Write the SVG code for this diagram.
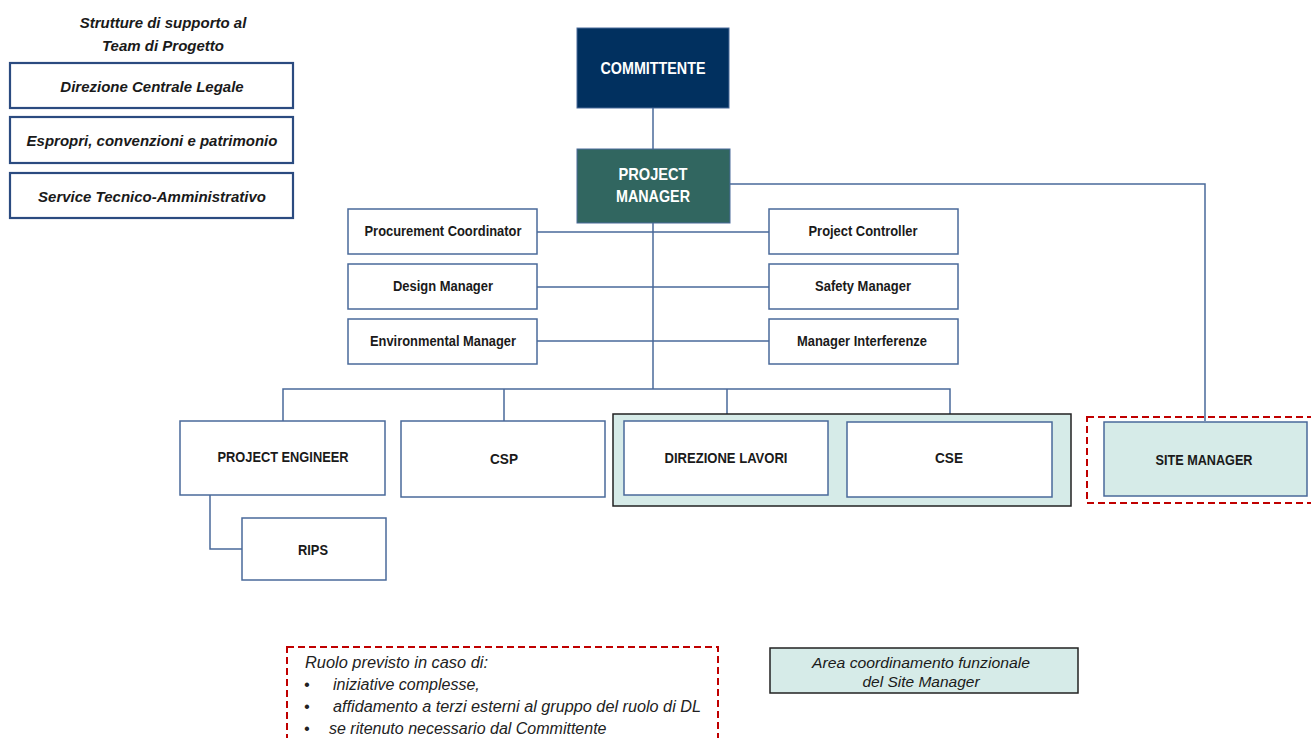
<svg xmlns="http://www.w3.org/2000/svg" width="1311" height="738" viewBox="0 0 1311 738">
<style>
text{font-family:"Liberation Sans",Arial,sans-serif;fill:#1a1a1a}
.b{font-weight:bold;text-anchor:middle}
.bi{font-weight:bold;font-style:italic;text-anchor:middle;font-size:15px}
.w{fill:#fff;font-size:16.5px}
.box{fill:#fff;stroke:#4a6a9a;stroke-width:1.5}
.sup{fill:#fff;stroke:#2b4b80;stroke-width:2.2}
.n{font-size:15px}
.s{font-size:14px}
.con{fill:none;stroke:#4a6a9a;stroke-width:1.5}
.it{font-style:italic;font-size:16px;fill:#222}
.red{fill:none;stroke:#c00000;stroke-width:2;stroke-dasharray:7,4}
</style>
<rect width="1311" height="738" fill="#fff"/>
<g id="connectors">
<path class="con" d="M653 108V149"/>
<path class="con" d="M653 223V389"/>
<path class="con" d="M730 184H1205V421"/>
<path class="con" d="M537 232H769M537 287H769M537 341H769" stroke-width="2" stroke="#7d95b8"/>
<path class="con" d="M283 421V389H950V421M504 389V421M727 389V421"/>
<path class="con" d="M210 495V549H242"/>
</g>
<g id="supporto">
<text class="bi" x="163" y="28">Strutture di supporto al</text>
<text class="bi" x="163" y="51">Team di Progetto</text>
</g>
<g id="legale"><rect class="sup" x="10" y="63" width="283" height="45"/><text class="bi" x="152" y="92">Direzione Centrale Legale</text></g>
<g id="espropri"><rect class="sup" x="10" y="117" width="283" height="46"/><text class="bi" x="152" y="146">Espropri, convenzioni e patrimonio</text></g>
<g id="service"><rect class="sup" x="10" y="173" width="283" height="45"/><text class="bi" x="152" y="202">Service Tecnico-Amministrativo</text></g>
<g id="committente"><rect x="577" y="28" width="152" height="80" fill="#01305f" stroke="#4a6a9a"/><text class="b w" x="653" y="74" textLength="105" lengthAdjust="spacingAndGlyphs">COMMITTENTE</text></g>
<g id="pm"><rect x="577" y="149" width="153" height="74" fill="#316660" stroke="#4a6a9a"/><text class="b w" x="653" y="180" textLength="69" lengthAdjust="spacingAndGlyphs">PROJECT</text><text class="b w" x="653" y="202" textLength="74" lengthAdjust="spacingAndGlyphs">MANAGER</text></g>
<g id="procurement"><rect class="box" x="348" y="209" width="189" height="45"/><text class="b s" x="443" y="236" textLength="157" lengthAdjust="spacingAndGlyphs">Procurement Coordinator</text></g>
<g id="design"><rect class="box" x="348" y="264" width="189" height="45"/><text class="b s" x="443" y="291" textLength="100" lengthAdjust="spacingAndGlyphs">Design Manager</text></g>
<g id="environmental"><rect class="box" x="348" y="319" width="189" height="45"/><text class="b s" x="443" y="346" textLength="146" lengthAdjust="spacingAndGlyphs">Environmental Manager</text></g>
<g id="controller"><rect class="box" x="769" y="209" width="189" height="45"/><text class="b s" x="863" y="236" textLength="109" lengthAdjust="spacingAndGlyphs">Project Controller</text></g>
<g id="safety"><rect class="box" x="769" y="264" width="189" height="45"/><text class="b s" x="863" y="291" textLength="96" lengthAdjust="spacingAndGlyphs">Safety Manager</text></g>
<g id="interferenze"><rect class="box" x="769" y="319" width="189" height="45"/><text class="b s" x="862" y="346" textLength="130" lengthAdjust="spacingAndGlyphs">Manager Interferenze</text></g>
<g id="pe"><rect class="box" x="180" y="421" width="205" height="74"/><text class="b n" x="283" y="462" textLength="131" lengthAdjust="spacingAndGlyphs">PROJECT ENGINEER</text></g>
<g id="csp"><rect class="box" x="401" y="421" width="204" height="76"/><text class="b n" x="504" y="464" textLength="28" lengthAdjust="spacingAndGlyphs">CSP</text></g>
<g id="area-sm"><rect x="613" y="414" width="458" height="92" fill="#d6ebe8" stroke="#222" stroke-width="1.5"/></g>
<g id="dl"><rect class="box" x="624" y="421" width="204" height="74"/><text class="b n" x="726" y="463" textLength="123" lengthAdjust="spacingAndGlyphs">DIREZIONE LAVORI</text></g>
<g id="cse"><rect class="box" x="847" y="422" width="205" height="75"/><text class="b n" x="949" y="463" textLength="28" lengthAdjust="spacingAndGlyphs">CSE</text></g>
<g id="site-manager"><rect class="red" x="1087" y="417" width="230" height="86"/><rect x="1104" y="422" width="203" height="74" fill="#d6ebe8" stroke="#4a6a9a" stroke-width="1.5"/><text class="b n" x="1204" y="465" textLength="97" lengthAdjust="spacingAndGlyphs">SITE MANAGER</text></g>
<g id="rips"><rect class="box" x="242" y="518" width="144" height="62"/><text class="b n" x="313" y="555" textLength="30" lengthAdjust="spacingAndGlyphs">RIPS</text></g>
<g id="nota"><rect class="red" x="287" y="647" width="431" height="100"/>
<text class="it" x="305" y="668" textLength="183" lengthAdjust="spacingAndGlyphs">Ruolo previsto in caso di:</text>
<text class="it" x="304" y="690">•</text><text class="it" x="333" y="690">iniziative complesse,</text>
<text class="it" x="304" y="712">•</text><text class="it" x="333" y="712" textLength="368" lengthAdjust="spacingAndGlyphs">affidamento a terzi esterni al gruppo del ruolo di DL</text>
<text class="it" x="304" y="734">•</text><text class="it" x="329" y="734">se ritenuto necessario dal Committente</text>
</g>
<g id="legenda"><rect x="770" y="648" width="308" height="45" fill="#d6ebe8" stroke="#222" stroke-width="1.5"/>
<text x="921" y="668" text-anchor="middle" font-style="italic" font-size="15.5" fill="#222" textLength="218" lengthAdjust="spacingAndGlyphs">Area coordinamento funzionale</text>
<text x="921" y="687" text-anchor="middle" font-style="italic" font-size="15.5" fill="#222">del Site Manager</text>
</g>
</svg>
